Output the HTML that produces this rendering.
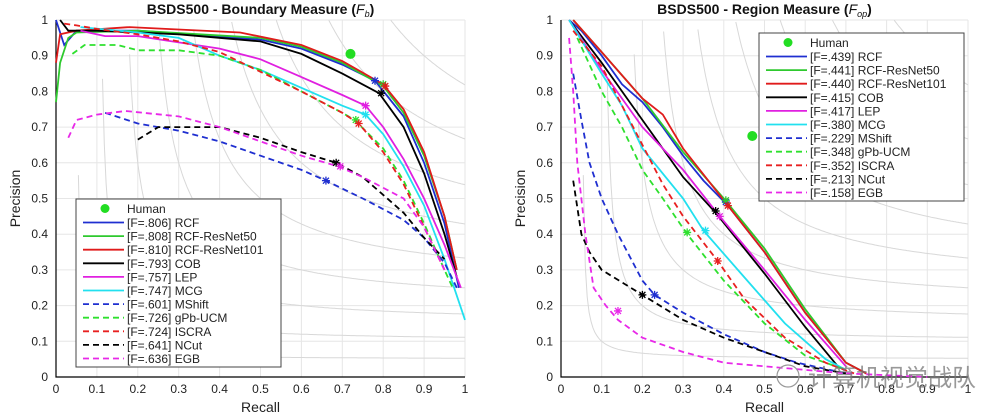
<!DOCTYPE html>
<html><head><meta charset="utf-8">
<style>
html,body{margin:0;padding:0;background:#fff;}
svg{display:block;font-family:"Liberation Sans",Arial,sans-serif;}
</style></head>
<body>
<svg id="chart" width="1007" height="416" viewBox="0 0 1007 416"></svg>
<script>
// ---------- data: boundary measure ----------
const bNames=["RCF","RCF-ResNet50","RCF-ResNet101","COB","LEP","MCG","MShift","gPb-UCM","ISCRA","NCut","EGB"];
const bScores=[".806",".808",".810",".793",".757",".747",".601",".726",".724",".641",".636"];
const bRCF=[[0,1],[0.02,0.93],[0.05,0.97],[0.2,0.97],[0.5,0.945],[0.6,0.92],[0.7,0.875],[0.78,0.83],[0.85,0.73],[0.9,0.6],[0.95,0.43],[0.985,0.25]];
const bRes50=[[0,0.77],[0.01,0.88],[0.03,0.95],[0.05,0.965],[0.2,0.97],[0.5,0.95],[0.6,0.925],[0.7,0.88],[0.8,0.815],[0.85,0.74],[0.9,0.62],[0.95,0.45],[0.98,0.3]];
const bRes101=[[0,0.88],[0.01,0.96],[0.05,0.97],[0.18,0.98],[0.45,0.965],[0.6,0.93],[0.7,0.885],[0.8,0.82],[0.85,0.75],[0.9,0.63],[0.95,0.45],[0.98,0.3]];
const bCOB=[[0.01,1],[0.03,0.97],[0.1,0.97],[0.3,0.96],[0.5,0.94],[0.6,0.905],[0.7,0.85],[0.79,0.795],[0.85,0.7],[0.9,0.57],[0.95,0.4],[0.98,0.28]];
const bLEP=[[0.06,0.97],[0.12,0.955],[0.2,0.955],[0.4,0.92],[0.5,0.89],[0.6,0.84],[0.7,0.79],[0.757,0.76],[0.8,0.7],[0.85,0.61],[0.9,0.5],[0.95,0.37],[0.99,0.25]];
const bMCG=[[0.06,0.98],[0.2,0.965],[0.3,0.95],[0.4,0.9],[0.5,0.86],[0.6,0.81],[0.7,0.76],[0.757,0.735],[0.8,0.68],[0.85,0.59],[0.9,0.48],[0.95,0.33],[1.0,0.16]];
const bMShift=[[0.12,0.74],[0.2,0.71],[0.3,0.69],[0.4,0.66],[0.5,0.62],[0.6,0.58],[0.66,0.55],[0.75,0.5],[0.85,0.44],[0.9,0.39],[0.95,0.32],[0.98,0.25]];
const bGPb=[[0.04,0.905],[0.07,0.93],[0.15,0.93],[0.2,0.915],[0.3,0.915],[0.4,0.9],[0.5,0.86],[0.6,0.8],[0.7,0.74],[0.73,0.72],[0.8,0.64],[0.85,0.55],[0.9,0.43],[0.95,0.3],[0.97,0.25]];
const bISCRA=[[0.02,0.99],[0.05,0.985],[0.1,0.975],[0.2,0.96],[0.3,0.94],[0.4,0.91],[0.5,0.855],[0.6,0.8],[0.7,0.74],[0.74,0.71],[0.8,0.63],[0.85,0.54],[0.9,0.42],[0.95,0.3]];
const bNCut=[[0.2,0.665],[0.25,0.7],[0.4,0.7],[0.5,0.67],[0.6,0.63],[0.685,0.6],[0.75,0.56],[0.8,0.51],[0.85,0.46],[0.9,0.39],[0.95,0.33]];
const bEGB=[[0.03,0.67],[0.05,0.72],[0.1,0.735],[0.17,0.745],[0.3,0.73],[0.4,0.7],[0.5,0.66],[0.6,0.62],[0.69,0.59],[0.75,0.56],[0.85,0.5],[0.9,0.42],[0.95,0.3]];
const bStars=[[0.78,0.83],[0.8,0.82],[0.805,0.815],[0.795,0.795],[0.757,0.76],[0.757,0.735],[0.66,0.55],[0.733,0.72],[0.74,0.71],[0.685,0.6],[0.695,0.59]];
const bHuman=[0.72,0.905];
// ---------- data: region measure ----------
const rScores=[".439",".441",".440",".415",".417",".380",".229",".348",".352",".213",".158"];
const rRCF=[[0.02,1],[0.05,0.97],[0.1,0.9],[0.15,0.82],[0.2,0.77],[0.25,0.7],[0.3,0.62],[0.35,0.55],[0.41,0.48],[0.5,0.35],[0.6,0.18],[0.7,0.04],[0.75,0.01]];
const rRes50=[[0.03,1],[0.1,0.91],[0.2,0.78],[0.3,0.63],[0.4,0.5],[0.5,0.36],[0.6,0.19],[0.7,0.04],[0.75,0.01]];
const rRes101=[[0.03,1],[0.1,0.91],[0.2,0.78],[0.25,0.735],[0.3,0.64],[0.41,0.48],[0.5,0.35],[0.6,0.18],[0.7,0.04],[0.75,0.01]];
const rCOB=[[0.02,1],[0.1,0.88],[0.2,0.72],[0.3,0.56],[0.38,0.46],[0.5,0.29],[0.6,0.14],[0.68,0.03]];
const rLEP=[[0.02,1],[0.1,0.86],[0.15,0.78],[0.2,0.7],[0.3,0.58],[0.39,0.45],[0.5,0.3],[0.6,0.16],[0.7,0.03]];
const rMCG=[[0.02,1],[0.1,0.85],[0.15,0.76],[0.2,0.64],[0.3,0.5],[0.35,0.41],[0.45,0.28],[0.55,0.15],[0.65,0.05],[0.7,0.02]];
const rMShift=[[0.03,0.85],[0.05,0.72],[0.07,0.6],[0.1,0.5],[0.14,0.4],[0.2,0.27],[0.23,0.23],[0.3,0.18],[0.4,0.12],[0.5,0.07],[0.58,0.04],[0.7,0.01]];
const rGPb=[[0.04,0.95],[0.1,0.8],[0.15,0.7],[0.2,0.58],[0.25,0.5],[0.31,0.4],[0.4,0.27],[0.5,0.15],[0.6,0.06],[0.7,0.02]];
const rISCRA=[[0.03,0.97],[0.1,0.87],[0.2,0.65],[0.25,0.54],[0.3,0.45],[0.385,0.325],[0.45,0.22],[0.55,0.11],[0.65,0.04],[0.72,0.01]];
const rNCut=[[0.03,0.55],[0.05,0.4],[0.07,0.35],[0.1,0.3],[0.2,0.23],[0.3,0.16],[0.4,0.11],[0.5,0.07],[0.6,0.03],[0.7,0.01]];
const rEGB=[[0.02,0.95],[0.03,0.8],[0.04,0.6],[0.06,0.4],[0.08,0.25],[0.11,0.2],[0.14,0.16],[0.2,0.11],[0.3,0.07],[0.4,0.04],[0.5,0.03],[0.6,0.02],[0.7,0.01],[0.9,0.0]];
const rStars=[[0.405,0.49],[0.405,0.495],[0.41,0.48],[0.38,0.465],[0.39,0.45],[0.355,0.41],[0.23,0.23],[0.31,0.405],[0.385,0.325],[0.2,0.23],[0.14,0.185]];
const rHuman=[0.47,0.675];
const ticks=[0,0.1,0.2,0.3,0.4,0.5,0.6,0.7,0.8,0.9,1];
const tickLabels=["0","0.1","0.2","0.3","0.4","0.5","0.6","0.7","0.8","0.9","1"];
const isoF=[0.1,0.2,0.3,0.4,0.5,0.6,0.7,0.8,0.9];

const colors=["#1f2fd0","#2ec92e","#e01b1b","#000000","#e020e0","#22e0ef","#1f2fd0","#2ee02e","#e82020","#000000","#e828e8"];
const dashed=[false,false,false,false,false,false,true,true,true,true,true];

const NS="http://www.w3.org/2000/svg";
const svg=document.getElementById('chart');
function mk(tag,attrs,parent){const e=document.createElementNS(NS,tag);for(const k in attrs)e.setAttribute(k,attrs[k]);(parent||svg).appendChild(e);return e;}

function drawPanel(p){
  const g=mk('g',{});
  
  
  const X=v=>p.x0+(p.x1-p.x0)*v, Y=v=>p.y0+(p.y1-p.y0)*v;
  // grid
  ticks.forEach(t=>{
    const gl=mk('line',{x1:X(t),x2:X(t),y1:Y(0),y2:Y(1),stroke:'#e6e6e6','stroke-width':1},g);
    
    
    const gh=mk('line',{x1:X(0),x2:X(1),y1:Y(t),y2:Y(t),stroke:'#e6e6e6','stroke-width':1},g);
    
    
  });
  // iso-F
  isoF.forEach(f=>{
    let d='';let first=true;
    for(let i=0;i<=200;i++){const r=f/2+0.0001+(1-f/2)*i/200;const pr=f*r/(2*r-f);if(pr>1||pr<0)continue;
      d+=(first?'M':'L')+X(r).toFixed(1)+','+Y(pr).toFixed(1);first=false;}
    const c=mk('path',{d:d,fill:'none',stroke:'#d8d8d8','stroke-width':1},g);
    
    
  });
  // axes box
  const ax=mk('path',{d:`M${X(0)},${Y(1)}L${X(0)},${Y(0)}L${X(1)},${Y(0)}`,fill:'none',stroke:'#000','stroke-width':1.2},g);
  
  
  ticks.forEach((t,i)=>{
    const tx=mk('text',{x:X(t),y:Y(0)+16,'font-size':12,'text-anchor':'middle',fill:'#222'},g);tx.textContent=tickLabels[i];
    
    
    const ty=mk('text',{x:X(0)-8,y:Y(t)+4,'font-size':12,'text-anchor':'end',fill:'#222'},g);ty.textContent=tickLabels[i];
    
    
  });
  const xt=mk('text',{x:(X(0)+X(1))/2,y:Y(0)+35,'font-size':14,'text-anchor':'middle',fill:'#222'},g);xt.textContent='Recall';
  
  
  const cy=(Y(0)+Y(1))/2;
  const yt=mk('text',{x:p.x0-36,y:cy,'font-size':14,'text-anchor':'middle',fill:'#222',transform:`rotate(-90 ${p.x0-36} ${cy})`},g);yt.textContent='Precision';
  
  
  const tt=mk('text',{x:(X(0)+X(1))/2,y:14,'font-size':14,'font-weight':'bold','text-anchor':'middle',fill:'#111'},g);
  tt.innerHTML=p.title+' (<tspan font-style="italic" font-weight="normal">F</tspan><tspan font-size="9" font-style="italic" font-weight="normal" dy="3">'+p.sub+'</tspan><tspan dy="-3">)</tspan>';
  
  
  // series
  p.series.forEach((s,i)=>{
    const d=s.map((q,j)=>(j?'L':'M')+X(q[0]).toFixed(1)+','+Y(q[1]).toFixed(1)).join('');
    const ln=mk('path',{d:d,fill:'none',stroke:colors[i],'stroke-width':1.8,'stroke-dasharray':dashed[i]?'6,4':'none'},g);
    
    
  });
  p.stars.forEach((s,i)=>{
    const cx=X(s[0]),cyy=Y(s[1]);
    const st=mk('path',{d:`M${cx-4},${cyy}L${cx+4},${cyy}M${cx},${cyy-4}L${cx},${cyy+4}M${cx-3},${cyy-3}L${cx+3},${cyy+3}M${cx-3},${cyy+3}L${cx+3},${cyy-3}`,stroke:colors[i],'stroke-width':1.3},g);
    
    
  });
  const hu=mk('circle',{cx:X(p.human[0]),cy:Y(p.human[1]),r:5,fill:'#22dd22'},g);
  
  
  // legend
  const L=p.legend;
  const lg=mk('g',{},g);
  
  
  mk('rect',{x:L.x,y:L.y,width:205,height:168,fill:'#fff',stroke:'#444','stroke-width':1},lg);
  const hc=mk('circle',{cx:L.x+29,cy:L.y+9.5,r:4.5,fill:'#22dd22'},lg);
  
  
  const ht=mk('text',{x:L.x+51,y:L.y+14,'font-size':12,fill:'#222'},lg);ht.textContent='Human';
  bNames.forEach((n,i)=>{
    const yy=L.y+23.5+i*13.6;
    const ll=mk('line',{x1:L.x+7,x2:L.x+48,y1:yy,y2:yy,stroke:colors[i],'stroke-width':1.8,'stroke-dasharray':dashed[i]?'6,4':'none'},lg);
    
    
    const lt=mk('text',{x:L.x+51,y:yy+4.5,'font-size':12,fill:'#222'},lg);lt.textContent='[F='+p.scores[i]+'] '+n;
    
    
  });
}
drawPanel({id:'boundary',x0:56,x1:465,y0:377,y1:20,title:'BSDS500 - Boundary Measure',sub:'b',
  series:[bRCF,bRes50,bRes101,bCOB,bLEP,bMCG,bMShift,bGPb,bISCRA,bNCut,bEGB],stars:bStars,human:bHuman,scores:bScores,legend:{x:76,y:199}});
drawPanel({id:'region',x0:561,x1:968,y0:377,y1:20,title:'BSDS500 - Region Measure',sub:'op',
  series:[rRCF,rRes50,rRes101,rCOB,rLEP,rMCG,rMShift,rGPb,rISCRA,rNCut,rEGB],stars:rStars,human:rHuman,scores:rScores,legend:{x:759,y:33}});
const wm=mk('text',{x:808,y:386,'font-size':24,fill:'#777','fill-opacity':0.75,'font-family':'"Liberation Sans","Noto Sans CJK SC",sans-serif'});
wm.textContent='计算机视觉战队';


const wc=mk('circle',{cx:788,cy:376,r:11,fill:'none',stroke:'#999','stroke-width':1.2});


</script>
</body></html>
